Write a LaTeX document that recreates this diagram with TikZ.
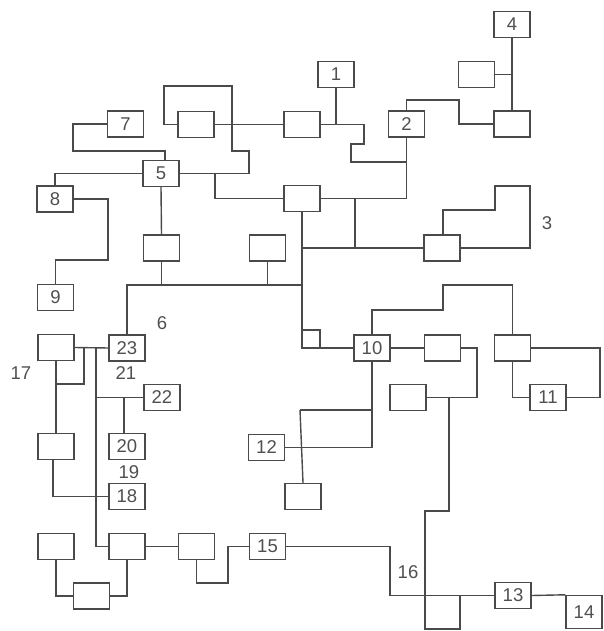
\documentclass[tikz,border=0pt]{standalone}
\usepackage{fontspec}
\setmainfont{Liberation Sans}
\definecolor{ink}{HTML}{4A4A4A}
\definecolor{txt}{HTML}{505050}
\begin{document}
\begin{tikzpicture}[x=1pt,y=-1pt,
  box/.style={draw=ink,line width=1.4pt,fill=white,minimum width=36pt,minimum height=26pt,inner sep=0pt,text=txt,font=\fontsize{18.5}{18.5}\selectfont},
  lbl/.style={text=txt,inner sep=0pt,font=\fontsize{18.5}{18.5}\selectfont},
  wire/.style={draw=ink,line width=1.4pt}]
\useasboundingbox (0,0) rectangle (603,631);
% boxes
\node[box] (b4) at (512,24.5) {4};
\node[box] (bU1) at (476.5,74.5) {};
\node[box] (bA) at (512,124) {};
\node[box] (b2) at (406.5,124) {2};
\node[box] (b1) at (336,74.5) {1};
\node[box] (bB) at (302,124.5) {};
\node[box] (bC) at (196,124.5) {};
\node[box] (b5) at (161,173.5) {5};
\node[box] (b7) at (125.5,124) {7};
\node[box] (b8) at (55,199) {8};
\node[box] (b9) at (55.5,297.5) {9};
\node[box] (bD) at (302,198.5) {};
\node[box] (bE) at (442,248) {};
\node[box] (bF) at (267.5,248) {};
\node[box] (bG) at (161.5,248) {};
\node[box] (b23) at (127,348) {23};
\node[box] (b10) at (372,348) {10};
\node[box] (bH) at (512.5,348) {};
\node[box] (b11) at (548,397.5) {11};
\node[box] (bI) at (442.5,348) {};
\node[box] (bJ) at (408,397.5) {};
\node[box] (b12) at (266.5,447.5) {12};
\node[box] (bK) at (303,496.5) {};
\node[box] (b13) at (513,595.5) {13};
\node[box,minimum height=33pt] (b14) at (584,612) {\raisebox{-9pt}{14}};
\node[box] (b15) at (267.5,546.5) {15};
\node[box] (bL) at (56,347.5) {};
\node[box] (bM) at (56,446.5) {};
\node[box] (b22) at (162,397.5) {22};
\node[box] (b20) at (127,446.5) {20};
\node[box] (b18) at (127,496.5) {18};
\node[box] (bN) at (127,546.5) {};
\node[box] (bO) at (196.5,546.5) {};
\node[box] (bP) at (56,546.5) {};
\node[box] (bQ) at (91.5,596) {};
% labels
\node[lbl] (l3) at (547,223) {3};
\node[lbl] (l6) at (162,323) {6};
\node[lbl] (l17) at (21,373) {17};
\node[lbl] (l21) at (126,373) {21};
\node[lbl] (l19) at (129,472) {19};
\node[lbl] (l16) at (408,572) {16};
% wires
\begin{scope}[wire]
\draw (b4.south) -- (bA.north);
\draw (bU1.east) -- (bU1.east -| b4.south);
\draw (b2.north) |- (459,100) |- (bA.west);
\draw (b1.south) -- (b1.south |- bB.east);
\draw (bB.east) -- (364,124.5) -- (364,144) -- (351,144) -- (351,162) -- (406.5,162);
\draw (b2.south) |- (bD.east);
\draw (bC.east) -- (bB.west);
\draw (bC.west) -- (164,124.5) -- (164,86) -- (232,86) -- (232,151) -- (249,151) -- (249,173.5) -- (b5.east);
\draw (b7.west) -| (73,151) -| (165,160.5);
\draw (b5.west) -| (b8.north);
\draw (b8.east) -| (108,260) -| (b9.north);
\draw (215,173.5) |- (bD.west);
\draw (355,198.5) -- (355,248);
\draw (302,248) -- (bE.west);
\draw (bD.south) |- (b10.west);
\draw (302,330) -| (320,348);
\draw (443,235) -- (443,210) -- (495,210) -- (495,186) -- (530,186) -- (530,248) -- (bE.east);
\draw (b5.south) -- (bG.north);
\draw (bG.south) -- (bG.south |- 0,285);
\draw (bF.south) -- (bF.south |- 0,285);
\draw (b23.north) |- (302,285);
\draw (b10.north) |- (443,310) |- (512.5,285) -- (bH.north);
\draw (bH.east) -| (600,397.5) -- (b11.east);
\draw (bH.south) |- (b11.west);
\draw (b10.east) -- (bI.west);
\draw (bI.east) -| (477,397.5) -- (bJ.east);
\draw (449,397.5) |- (425,511) |- (460,629) -- (460,595.5);
\draw (b15.east) -| (390,595.5) -- (b13.west);
\draw (b13.east) -- (b14.north west);
\draw (b10.south) |- (b12.east);
\draw (300,410) -- (372,410);
\draw (300,410) -- (bK.north);
\draw (bL.east) -- (b23.west);
\draw (84,347.5) |- (56,384);
\draw (bL.south) -- (bM.north);
\draw (96,347.5) |- (bN.west);
\draw (96,397.5) -- (b22.west);
\draw (124,397.5) -- (124,433.5);
\draw (53,459.5) |- (b18.west);
\draw (bN.east) -- (bO.west);
\draw (bO.south) |- (228,583) |- (b15.west);
\draw (bP.south) |- (bQ.west);
\draw (bQ.east) -| (bN.south);
\end{scope}
\end{tikzpicture}
\end{document}
